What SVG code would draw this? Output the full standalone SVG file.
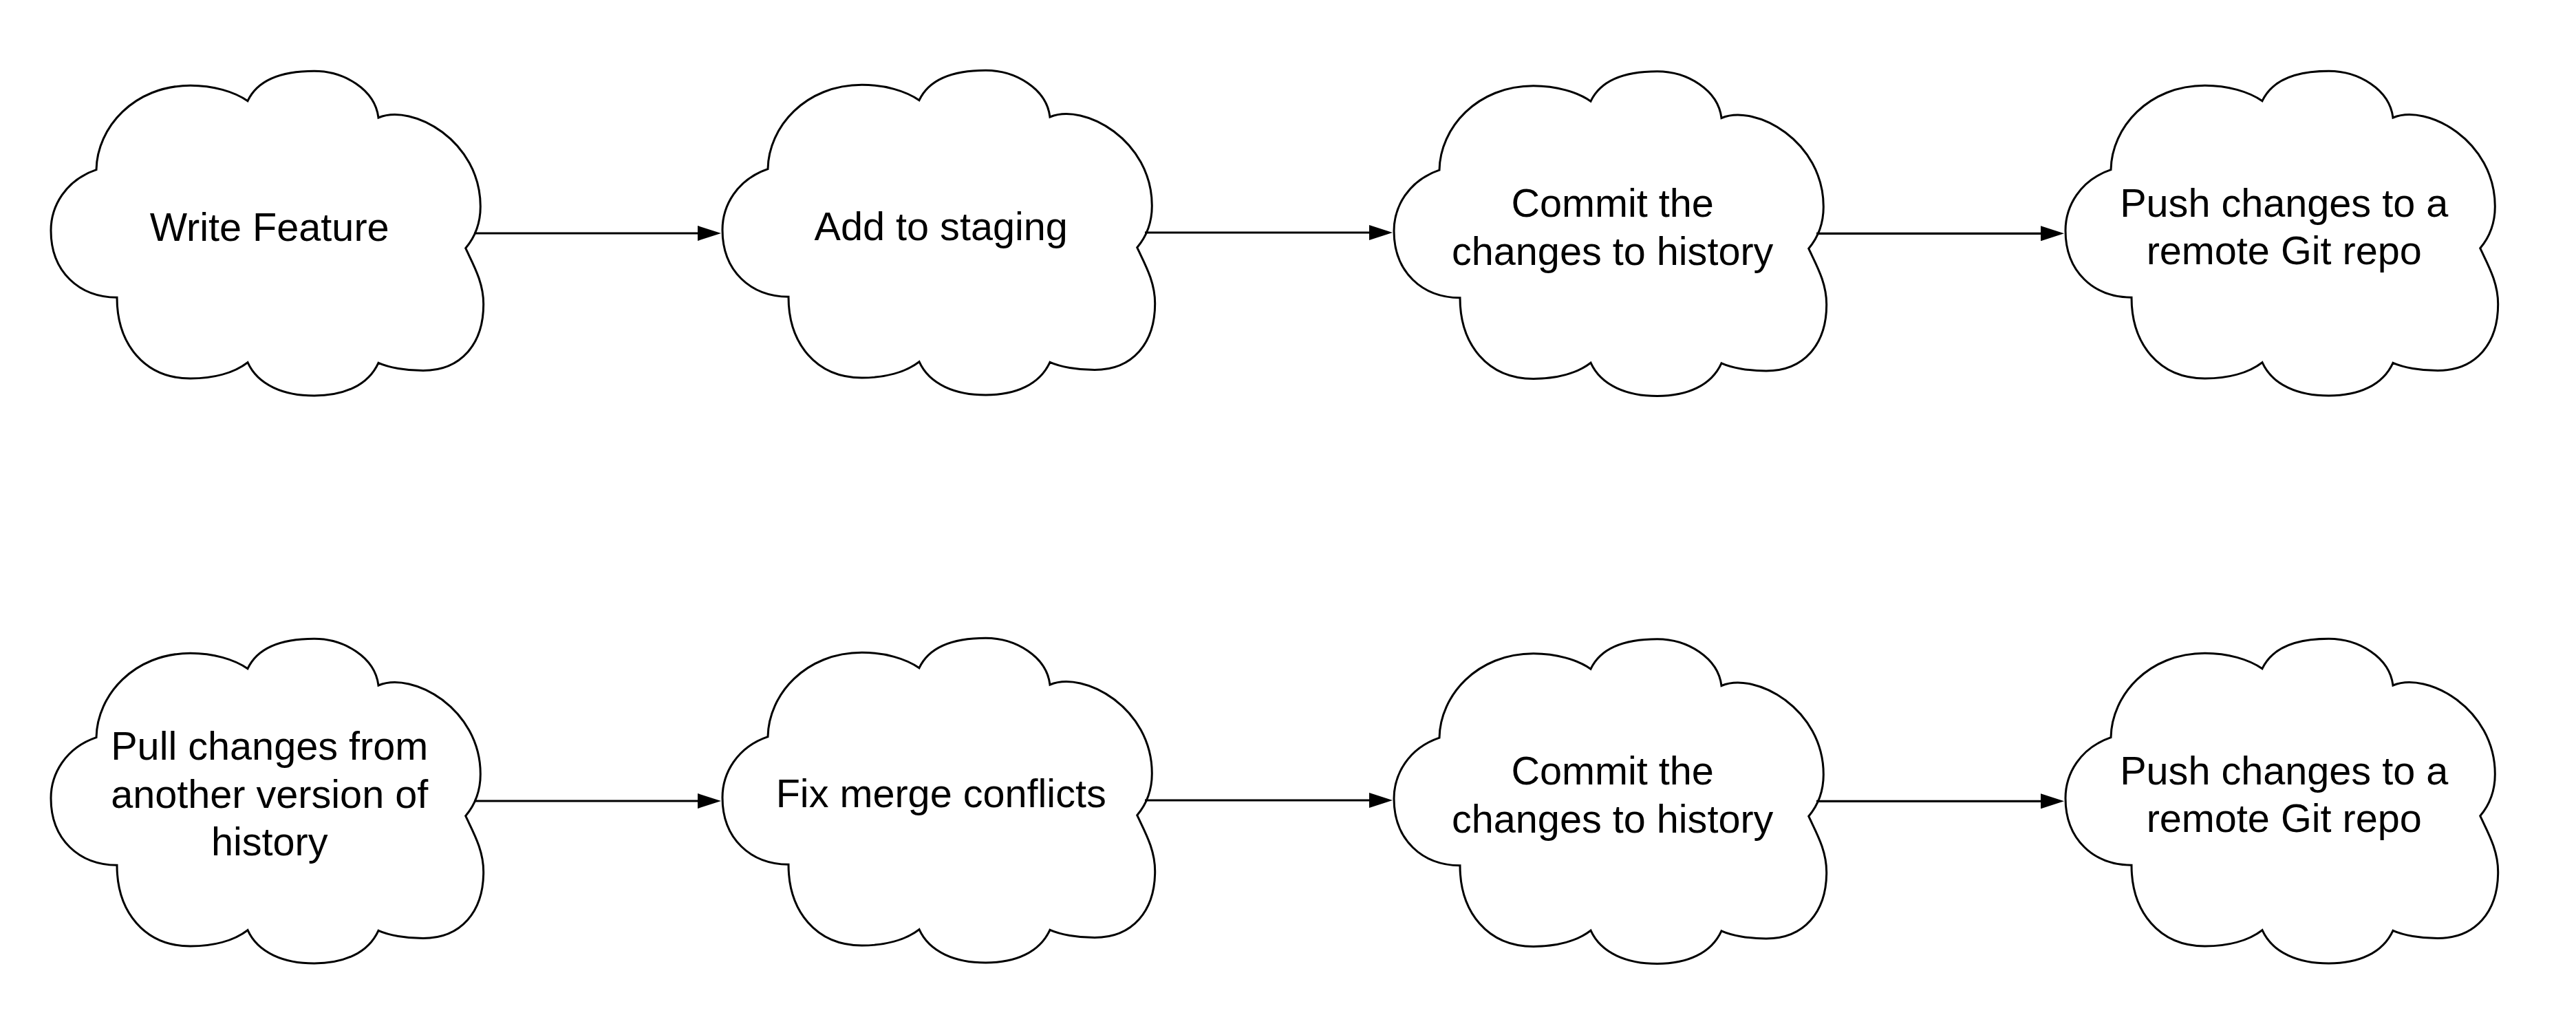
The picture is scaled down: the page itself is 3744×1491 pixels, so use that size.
<svg xmlns="http://www.w3.org/2000/svg" xmlns:xlink="http://www.w3.org/1999/xlink" width="3744" height="1491" viewBox="0 0 3744 1491">
  <style>
    .cloud { fill: #ffffff; stroke: #000000; stroke-width: 3; stroke-linejoin: miter; }
    .label { font-family: "Liberation Sans", Arial, sans-serif; font-size: 57.6px; fill: #000000; text-anchor: middle; }
    .edge { fill: none; stroke: #000000; stroke-width: 3.2; }
  </style>
  <defs>
    <path id="cloudShape" class="cloud" d="M140,246.7 C141,185 195,124.3 276.7,124.3 C310,124.3 340,133 360,146.7 C375,115 410,103.3 456.7,103.3 C500,103.3 545,130 550,171 C600,150 698.3,205 698.3,300 C698.3,325 690,345 676.7,360.7 C688,385 702.7,410 702.7,442 C702.7,500 670,538.5 615,538.5 C590,538.5 565,534 550,527.3 C535,560 500,575 456.7,575 C413,575 375,560 360,526.7 C340,542 310,550 276.7,550 C210,550 170,500 170,432.3 C115,432 74,395 74,335 C74,300 95,262 140,246.7 Z"/>
    <marker id="arrowHead" markerUnits="userSpaceOnUse" markerWidth="34" markerHeight="22" refX="4" refY="11" orient="auto">
      <path d="M0,0 L34,11 L0,22 Z" fill="#000000"/>
    </marker>
  </defs>
  <rect x="0" y="0" width="3744" height="1491" fill="#ffffff"/>

  <g id="node-write-feature">
    <use xlink:href="#cloudShape" href="#cloudShape" x="0" y="0"/>
    <text class="label" x="391.7" y="349.5">Write Feature</text>
  </g>
  <g id="node-add-to-staging">
    <use xlink:href="#cloudShape" href="#cloudShape" x="976" y="-1"/>
    <text class="label" x="1367.7" y="348.5">Add to staging</text>
  </g>
  <g id="node-commit-1">
    <use xlink:href="#cloudShape" href="#cloudShape" x="1952" y="0.5"/>
    <text class="label" x="2343.7" y="315"><tspan x="2343.7" y="315">Commit the</tspan><tspan x="2343.7" y="384.6">changes to history</tspan></text>
  </g>
  <g id="node-push-1">
    <use xlink:href="#cloudShape" href="#cloudShape" x="2928" y="0"/>
    <text class="label" x="3319.7" y="314.7"><tspan x="3319.7" y="314.7">Push changes to a</tspan><tspan x="3319.7" y="384.3">remote Git repo</tspan></text>
  </g>

  <g id="node-pull-changes">
    <use xlink:href="#cloudShape" href="#cloudShape" x="0" y="825"/>
    <text class="label" x="391.7" y="1104"><tspan x="391.7" y="1104">Pull changes from</tspan><tspan x="391.7" y="1173.6">another version of</tspan><tspan x="391.7" y="1243.2">history</tspan></text>
  </g>
  <g id="node-fix-merge">
    <use xlink:href="#cloudShape" href="#cloudShape" x="976" y="824"/>
    <text class="label" x="1367.7" y="1173.3">Fix merge conflicts</text>
  </g>
  <g id="node-commit-2">
    <use xlink:href="#cloudShape" href="#cloudShape" x="1952" y="825.5"/>
    <text class="label" x="2343.7" y="1140"><tspan x="2343.7" y="1140">Commit the</tspan><tspan x="2343.7" y="1209.6">changes to history</tspan></text>
  </g>
  <g id="node-push-2">
    <use xlink:href="#cloudShape" href="#cloudShape" x="2928" y="825"/>
    <text class="label" x="3319.7" y="1139.7"><tspan x="3319.7" y="1139.7">Push changes to a</tspan><tspan x="3319.7" y="1209.3">remote Git repo</tspan></text>
  </g>

  <g id="connectors">
    <path class="edge" d="M689,339 H1018" marker-end="url(#arrowHead)"/>
    <path class="edge" d="M1664,338 H1994" marker-end="url(#arrowHead)"/>
    <path class="edge" d="M2640,339.3 H2970" marker-end="url(#arrowHead)"/>
    <path class="edge" d="M689,1164 H1018" marker-end="url(#arrowHead)"/>
    <path class="edge" d="M1664,1163 H1994" marker-end="url(#arrowHead)"/>
    <path class="edge" d="M2640,1164.3 H2970" marker-end="url(#arrowHead)"/>
  </g>
</svg>
